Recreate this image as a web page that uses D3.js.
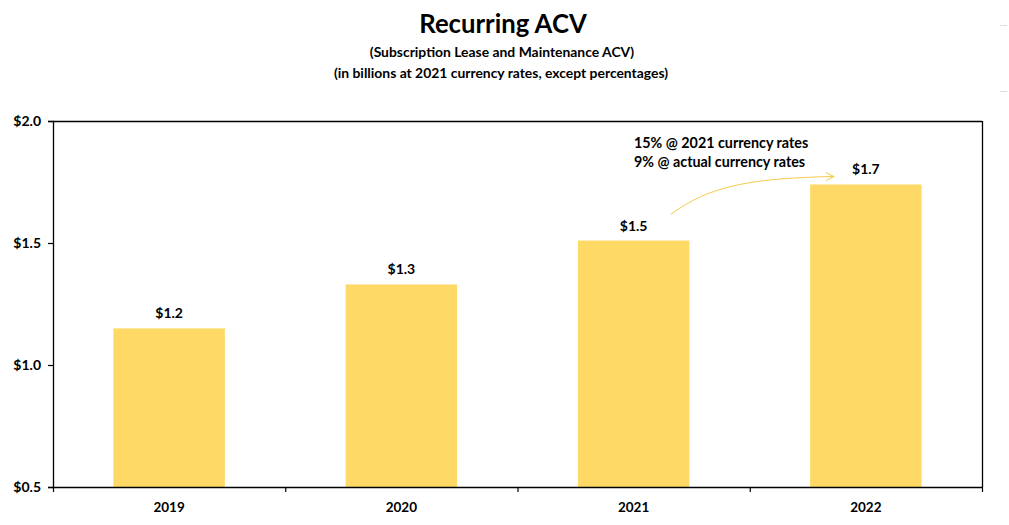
<!DOCTYPE html>
<html>
<head>
<meta charset="utf-8">
<script src="https://cdn.jsdelivr.net/npm/d3@7/dist/d3.min.js"></script>
<style>
  html, body { margin: 0; padding: 0; background: #fff; }
  svg { display: block; font-family: Lato, "Open Sans", sans-serif; }
</style>
</head>
<body>
<svg id="chart" width="1009" height="525"></svg>
<script>
const categories = ["2019", "2020", "2021", "2022"];
const values = [1.15, 1.33, 1.51, 1.74];
const valueLabels = ["$1.2", "$1.3", "$1.5", "$1.7"];
const yTicks = [0.5, 1.0, 1.5, 2.0];
const annotationLines = ["15% @ 2021 currency rates", "9% @ actual currency rates"];

const svg = d3.select("#chart");
const margin = { left: 53, right: 1009 - 982, top: 121, bottom: 525 - 487 };
const W = 1009, H = 525;

const x = d3.scaleBand().domain(categories).range([margin.left, W - margin.right])
  .paddingInner(0.52).paddingOuter(0.26);
const y = d3.scaleLinear().domain([0.5, 2.0]).range([H - margin.bottom, margin.top]);

// Title
svg.append("text").attr("x", 503).attr("y", 33).attr("text-anchor", "middle")
  .attr("font-size", 25.7).attr("font-weight", "bold").attr("fill", "#000").text("Recurring ACV");
svg.append("text").attr("x", 502).attr("y", 57).attr("text-anchor", "middle")
  .attr("font-size", 13.9).attr("font-weight", "bold").text("(Subscription Lease and Maintenance ACV)");
svg.append("text").attr("x", 501).attr("y", 78).attr("text-anchor", "middle")
  .attr("font-size", 13.9).attr("font-weight", "bold").text("(in billions at 2021 currency rates, except percentages)");

// Bars
svg.append("g").selectAll("rect").data(categories).join("rect")
  .attr("x", d => x(d))
  .attr("width", x.bandwidth())
  .attr("y", (d, i) => y(values[i]))
  .attr("height", (d, i) => y(0.5) - y(values[i]))
  .attr("fill", "#FFD966");

// Value labels
svg.append("g").selectAll("text").data(categories).join("text")
  .attr("x", d => x(d) + x.bandwidth() / 2)
  .attr("y", (d, i) => y(values[i]) - 10)
  .attr("text-anchor", "middle").attr("font-size", 14).attr("font-weight", "bold")
  .text((d, i) => valueLabels[i]);

// Frame: top and right
const x0 = margin.left, x1 = W - margin.right, yTop = margin.top, yBot = H - margin.bottom;
svg.append("line").attr("x1", x0).attr("x2", x1).attr("y1", yTop + 0.5).attr("y2", yTop + 0.5)
  .attr("stroke", "#000").attr("stroke-width", 1.3);
svg.append("line").attr("x1", x1 + 0.5).attr("x2", x1 + 0.5).attr("y1", yTop).attr("y2", yBot)
  .attr("stroke", "#000").attr("stroke-width", 1.3);

// Y axis
const yAxis = svg.append("g").attr("transform", `translate(${x0},0)`)
  .call(d3.axisLeft(y).tickValues(yTicks).tickSize(5).tickFormat(d => "$" + d3.format(".1f")(d)));
yAxis.select(".domain").attr("stroke-width", 1.3);
yAxis.selectAll("line").attr("stroke-width", 1.2);
yAxis.selectAll("text").attr("font-size", 14).attr("font-weight", "bold")
  .attr("font-family", "Lato, sans-serif").attr("fill", "#000").attr("x", -12);

// X axis with ticks at band boundaries
const xg = svg.append("g");
xg.append("line").attr("x1", x0).attr("x2", x1 + 1).attr("y1", yBot + 0.5).attr("y2", yBot + 0.5)
  .attr("stroke", "#000").attr("stroke-width", 1.3);
const bounds = d3.range(categories.length + 1).map(i => x0 + i * x.step());
xg.selectAll("line.tick").data(bounds).join("line").attr("class", "tick")
  .attr("x1", d => d + 0.5).attr("x2", d => d + 0.5).attr("y1", yBot).attr("y2", yBot + 5)
  .attr("stroke", "#000").attr("stroke-width", 1.2);
xg.selectAll("text").data(categories).join("text")
  .attr("x", d => x(d) + x.bandwidth() / 2).attr("y", 512)
  .attr("text-anchor", "middle").attr("font-size", 13.5).attr("font-weight", "bold")
  .text(d => d);

// Annotation
const ann = svg.append("g");
annotationLines.forEach((t, i) => {
  ann.append("text").attr("x", 634).attr("y", 148 + i * 19)
    .attr("font-size", 14.3).attr("font-weight", "bold").text(t);
});
const c21 = x("2021") + x.bandwidth() / 2, c22 = x("2022") + x.bandwidth() / 2;
const sx = c21 + 37, sy = y(values[2]) - 26;
const ex = c22 - 32, ey = y(values[3]) - 8;
svg.append("defs").append("marker").attr("id", "arr").attr("viewBox", "0 0 10 10")
  .attr("refX", 9).attr("refY", 5).attr("markerWidth", 10).attr("markerHeight", 10)
  .attr("markerUnits", "userSpaceOnUse").attr("orient", "auto")
  .append("path").attr("d", "M1,1 L9,5 L1,9").attr("fill", "none").attr("stroke", "#F7CB4D").attr("stroke-width", 1);
ann.append("path")
  .attr("d", `M${sx},${sy} C${sx + 40},${sy - 30} ${ex - 80},${ey + 2} ${ex},${ey}`)
  .attr("fill", "none").attr("stroke", "#F7CB4D").attr("stroke-width", 1)
  .attr("marker-end", "url(#arr)");

// faint artifacts top-right
svg.append("line").attr("x1", 1000).attr("x2", 1007).attr("y1", 25.5).attr("y2", 25.5).attr("stroke", "#ddd");
svg.append("line").attr("x1", 1000).attr("x2", 1007).attr("y1", 91.5).attr("y2", 91.5).attr("stroke", "#ddd");
</script>
</body>
</html>
